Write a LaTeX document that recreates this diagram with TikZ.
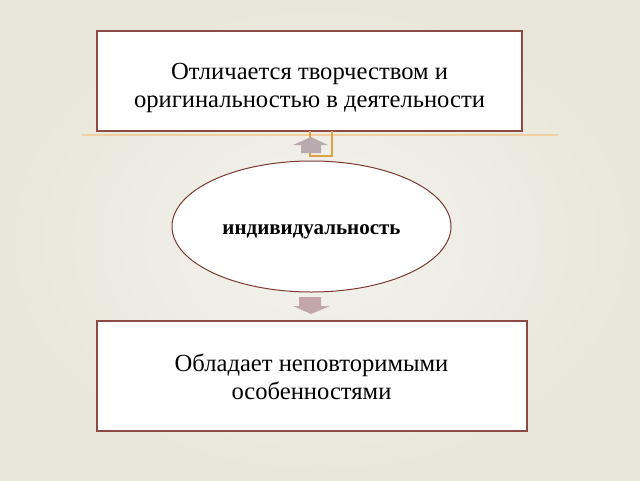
\documentclass[tikz,border=0pt]{standalone}
\usepackage{fontspec}
\setmainfont{Liberation Serif}
\usetikzlibrary{shapes.geometric}
\definecolor{bgin}{HTML}{F3F2EE}
\definecolor{bgout}{HTML}{E9E7DA}
\definecolor{boxline}{HTML}{8E4A45}
\definecolor{ellline}{HTML}{7A3B30}
\definecolor{goldline}{HTML}{D9A441}
\definecolor{hline}{HTML}{F2CFA0}
\definecolor{uparr}{HTML}{B9AAB0}
\definecolor{downarr}{HTML}{C4A6AA}
\tikzset{
  textbox/.style={draw=boxline, line width=2pt, fill=white, minimum width=425pt, inner sep=0pt, align=center},
  bigtext/.style={font=\fontsize{24.6}{28}\selectfont, align=center},
  oval/.style={ellipse, draw=ellline, line width=1pt, fill=white, minimum width=279pt, minimum height=131pt, inner sep=0pt}
}
\begin{document}
\begin{tikzpicture}[x=1pt,y=-1pt]
\useasboundingbox (0,0) rectangle (640,480);
\shade[inner color=bgin, outer color=bgout] (0,0) rectangle (640,480);
% horizontal line
\coordinate (hl1) at (82,135);
\coordinate (hl2) at (558,135);
\draw[hline, line width=1.5pt] (hl1) -- (hl2);
% top box
\node[textbox, minimum height=100pt] (top) at (309.5,81) {};
\node[bigtext] (toptext) at (309.5,88) {Отличается творчеством и\\оригинальностью в деятельности};
% gold bracket
\draw[goldline, line width=2pt] (310,131) -- (310,155.5) -- (332,155.5) -- (332,131);
% up arrow
\fill[uparr] (311,137) -- (328,145) -- (321,145) -- (321,153) -- (301,153) -- (301,145) -- (293,145) -- cycle;
% ellipse
\node[oval] (ind) at (311.5,226.5) {};
\node[font=\fontsize{21}{25}\selectfont\bfseries] (indtext) at (311.5,232) {индивидуальность};
% down arrow
\fill[downarr] (299,297) -- (321,297) -- (321,306) -- (330,306) -- (311,314) -- (293,306) -- (299,306) -- cycle;
% bottom box
\node[textbox, minimum width=430pt, minimum height=110pt] (bot) at (311.5,376) {};
\node[bigtext] (bottext) at (311.5,377) {Обладает неповторимыми\\особенностями};
\end{tikzpicture}
\end{document}
